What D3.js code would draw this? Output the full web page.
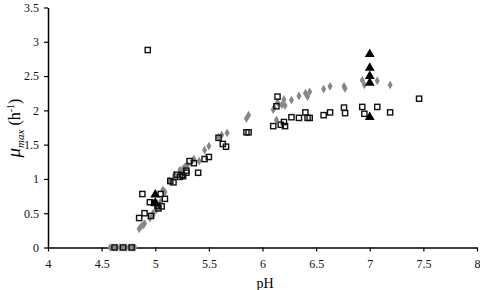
<!DOCTYPE html>
<html>
<head>
<meta charset="utf-8">
<script src="https://cdn.jsdelivr.net/npm/d3@7"></script>
<style>
  body { margin: 0; background: #fff; }
  text { font-family: "Liberation Serif", "Times New Roman", serif; }
</style>
</head>
<body>
<div id="chart"></div>
<script>
// pH and mu_max values.
const squares = [
  [4.62, 0], [4.70, 0], [4.78, 0],
  [4.85, 0.43], [4.90, 0.50], [4.96, 0.46], [4.88, 0.78], [4.95, 0.66],
  [4.99, 0.65], [5.02, 0.61], [5.03, 0.57], [5.06, 0.60], [5.05, 0.78],
  [5.09, 0.71], [4.93, 2.88],
  [5.14, 0.97], [5.17, 0.95], [5.20, 1.06], [5.23, 1.03], [5.25, 1.06],
  [5.26, 1.04], [5.29, 1.09], [5.29, 1.12], [5.32, 1.26], [5.36, 1.23],
  [5.40, 1.09], [5.46, 1.29], [5.50, 1.32],
  [5.59, 1.60], [5.63, 1.51], [5.66, 1.47],
  [5.85, 1.68], [5.87, 1.68],
  [6.10, 1.77], [6.13, 2.06], [6.14, 2.20], [6.17, 1.79], [6.20, 1.83],
  [6.21, 1.77], [6.27, 1.90], [6.34, 1.89], [6.40, 1.97], [6.42, 1.89],
  [6.44, 1.89], [6.57, 1.93], [6.63, 1.97], [6.76, 2.04], [6.77, 1.96],
  [6.93, 2.05], [6.95, 1.95], [7.07, 2.05], [7.19, 1.97], [7.46, 2.17]
];

const diamonds = [
  [4.58, 0], [4.61, 0], [4.64, 0], [4.67, 0], [4.70, 0], [4.73, 0],
  [4.76, 0], [4.79, 0], [4.81, 0],
  [4.85, 0.27], [4.87, 0.31], [4.89, 0.33], [4.90, 0.35], [4.95, 0.43],
  [4.98, 0.47], [4.98, 0.50], [5.01, 0.55], [5.04, 0.60], [5.05, 0.67],
  [5.07, 0.84], [5.09, 0.81],
  [5.13, 0.97], [5.14, 0.96], [5.18, 1.03], [5.18, 1.06], [5.23, 1.08],
  [5.23, 1.13], [5.26, 1.15], [5.28, 1.18], [5.30, 1.20], [5.36, 1.29],
  [5.41, 1.26], [5.46, 1.42], [5.50, 1.48], [5.59, 1.61], [5.62, 1.64],
  [5.67, 1.67],
  [5.85, 1.88], [5.87, 1.93],
  [6.10, 2.01], [6.11, 2.04], [6.13, 1.86], [6.14, 2.12], [6.18, 2.08],
  [6.20, 2.16], [6.21, 2.07], [6.27, 2.15], [6.34, 2.21], [6.40, 2.25],
  [6.42, 2.20], [6.44, 2.27], [6.57, 2.31], [6.63, 2.35], [6.76, 2.35],
  [6.77, 2.32], [6.93, 2.44], [6.95, 2.37], [7.07, 2.43], [7.19, 2.37]
];

const triangles = [
  [5.00, 0.77], [5.00, 0.65],
  [7.00, 1.90], [7.00, 2.40], [7.00, 2.50], [7.00, 2.62], [7.00, 2.82]
];

const xTicks = [4, 4.5, 5, 5.5, 6, 6.5, 7, 7.5, 8];
const yTicks = [0, 0.5, 1, 1.5, 2, 2.5, 3, 3.5];

const width = 480, height = 290;
const margin = { left: 48, right: 3, top: 7.5, bottom: 42.5 };

const svg = d3.select('#chart')
  .append('svg')
  .attr('width', width)
  .attr('height', height);

const x = d3.scaleLinear().domain([4, 8]).range([margin.left, width - margin.right]);
const y = d3.scaleLinear().domain([0, 3.5]).range([height - margin.bottom, margin.top]);

// Axes
const xAxis = svg.append('g')
  .attr('transform', `translate(0,${y(0)})`)
  .call(d3.axisBottom(x).tickValues(xTicks).tickSize(4).tickSizeOuter(0).tickPadding(8)
    .tickFormat(d3.format('')));

const yAxis = svg.append('g')
  .attr('transform', `translate(${x(4)},0)`)
  .call(d3.axisLeft(y).tickValues(yTicks).tickSize(4).tickSizeOuter(0).tickPadding(5)
    .tickFormat(d3.format('')));

[xAxis, yAxis].forEach(g => {
  g.select('.domain').attr('stroke', '#000').attr('stroke-width', 1.5);
  g.selectAll('.tick line').attr('stroke', '#000').attr('stroke-width', 1.2);
  g.selectAll('.tick text')
    .attr('fill', '#111')
    .style('font-family', '"Liberation Serif", serif')
    .style('font-size', '12px');
});

// Markers: grey diamonds underneath, open squares over them, black triangles on top
svg.append('g')
  .selectAll('path')
  .data(diamonds)
  .join('path')
    .attr('d', d3.symbol().type(d3.symbolDiamond).size(22))
    .attr('transform', d => `translate(${x(d[0])},${y(d[1])})`)
    .attr('fill', '#878787');

svg.append('g')
  .selectAll('rect')
  .data(squares)
  .join('rect')
    .attr('x', d => x(d[0]) - 2.6)
    .attr('y', d => y(d[1]) - 2.6)
    .attr('width', 5.2)
    .attr('height', 5.2)
    .attr('fill', 'none')
    .attr('stroke', '#111')
    .attr('stroke-width', 1.4);

svg.append('g')
  .selectAll('path')
  .data(triangles)
  .join('path')
    .attr('d', d3.symbol().type(d3.symbolTriangle).size(42))
    .attr('transform', d => `translate(${x(d[0])},${y(d[1])})`)
    .attr('fill', '#000');

// Axis titles
svg.append('text')
  .attr('x', 265)
  .attr('y', 288)
  .attr('text-anchor', 'middle')
  .style('font-size', '14px')
  .text('pH');

const yLabel = svg.append('text')
  .attr('transform', 'translate(20,128) rotate(-90)')
  .attr('text-anchor', 'middle')
  .style('font-size', '16px');
yLabel.append('tspan').style('font-style', 'italic').style('font-size', '19px').text('μ');
yLabel.append('tspan').style('font-style', 'italic').style('font-size', '11px').attr('dy', 4).text('max');
yLabel.append('tspan').attr('dy', -4).text(' (h');
yLabel.append('tspan').style('font-size', '10px').attr('dy', -6).text('-1');
yLabel.append('tspan').attr('dy', 6).text(')');
</script>
</body>
</html>
